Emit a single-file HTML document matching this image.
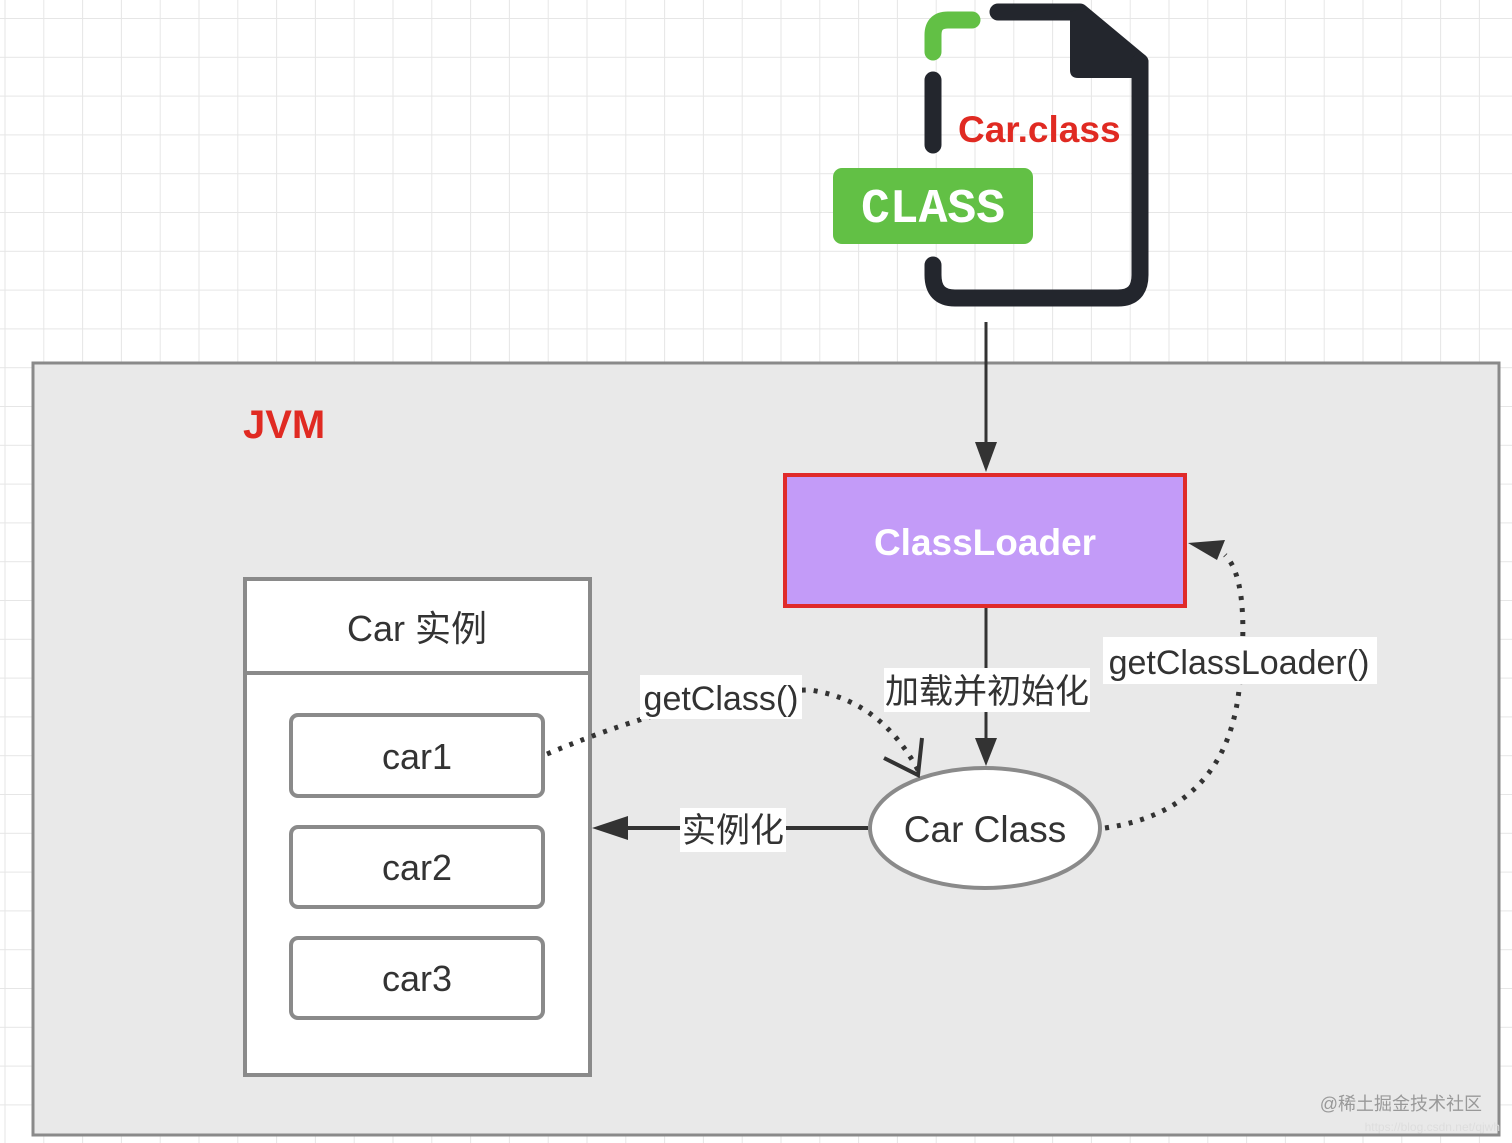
<!DOCTYPE html>
<html><head><meta charset="utf-8"><style>
html,body{margin:0;padding:0;background:#fff;}
svg{display:block;}
text{font-family:"Liberation Sans","Noto Sans CJK SC",sans-serif;}
</style></head><body>
<svg width="1512" height="1143" viewBox="0 0 1512 1143" xmlns="http://www.w3.org/2000/svg">
<defs>
<pattern id="g" x="4.5" y="18" width="38.8" height="38.8" patternUnits="userSpaceOnUse">
<path d="M0 0H38.8M0 0V38.8" stroke="#e6e6e6" stroke-width="2" fill="none"/>
</pattern>
</defs>
<rect width="1512" height="1143" fill="#fff"/>
<rect width="1512" height="1143" fill="url(#g)"/>

<!-- file icon -->
<path d="M933 52 V35 Q933 20 948 20 H972" stroke="#62c045" stroke-width="17" fill="none" stroke-linecap="round"/>
<path d="M998 12 H1080 L1140 62" stroke="#23262d" stroke-width="17" fill="none" stroke-linecap="round" stroke-linejoin="round"/>
<path d="M1070 12 L1070 70 Q1070 78 1078 78 H1140 L1140 60 L1082 8 Z" fill="#23262d"/>
<path d="M1140 62 V275 Q1140 298 1118 298 H955 Q933 298 933 275 V265" stroke="#23262d" stroke-width="17" fill="none" stroke-linecap="round" stroke-linejoin="round"/>
<path d="M933 80 V145" stroke="#23262d" stroke-width="17" fill="none" stroke-linecap="round"/>
<rect x="833" y="168" width="200" height="76" rx="9" fill="#62c045"/>
<text x="933" y="222" text-anchor="middle" font-family="Liberation Mono,monospace" font-weight="bold" font-size="48" fill="#fff" style="font-family:'Liberation Mono',monospace">CLASS</text>
<text x="958" y="142" font-size="37" font-weight="bold" fill="#e02a22">Car.class</text>

<!-- JVM -->
<rect x="33" y="363" width="1466" height="772" fill="#e9e9e9" stroke="#8a8a8a" stroke-width="3"/>
<text x="243" y="438" font-size="40" font-weight="bold" fill="#e02a22">JVM</text>

<!-- top arrow -->
<line x1="986" y1="322" x2="986" y2="450" stroke="#333" stroke-width="3"/>
<polygon points="975,442 997,442 986,472" fill="#333"/>

<!-- ClassLoader -->
<rect x="785" y="475" width="400" height="131" fill="#c39bf8" stroke="#e02a2a" stroke-width="4"/>
<text x="985" y="555" text-anchor="middle" font-size="37" font-weight="bold" fill="#fff">ClassLoader</text>

<!-- load arrow -->
<line x1="986" y1="608" x2="986" y2="745" stroke="#333" stroke-width="3"/>
<polygon points="975,738 997,738 986,766" fill="#333"/>
<rect x="884" y="668" width="206" height="44" fill="#fff"/>
<text x="987" y="703" text-anchor="middle" font-size="34" fill="#333">加载并初始化</text>

<!-- Car instance box -->
<rect x="245" y="579" width="345" height="496" fill="#fff" stroke="#8a8a8a" stroke-width="4"/>
<line x1="245" y1="673" x2="590" y2="673" stroke="#8a8a8a" stroke-width="4"/>
<text x="417" y="641" text-anchor="middle" font-size="36" fill="#333">Car 实例</text>
<rect x="291" y="715" width="252" height="81" rx="7" fill="#fff" stroke="#8a8a8a" stroke-width="4"/>
<text x="417" y="769" text-anchor="middle" font-size="36" fill="#333">car1</text>
<rect x="291" y="827" width="252" height="80" rx="7" fill="#fff" stroke="#8a8a8a" stroke-width="4"/>
<text x="417" y="880" text-anchor="middle" font-size="36" fill="#333">car2</text>
<rect x="291" y="938" width="252" height="80" rx="7" fill="#fff" stroke="#8a8a8a" stroke-width="4"/>
<text x="417" y="991" text-anchor="middle" font-size="36" fill="#333">car3</text>

<!-- Car Class ellipse -->
<ellipse cx="985" cy="828" rx="115" ry="60" fill="#fff" stroke="#8a8a8a" stroke-width="4"/>
<text x="985" y="842" text-anchor="middle" font-size="37" fill="#333">Car Class</text>

<!-- instantiate arrow -->
<line x1="868" y1="828" x2="620" y2="828" stroke="#333" stroke-width="4"/>
<polygon points="592,828 628,816 628,840" fill="#333"/>
<rect x="680" y="808" width="106" height="44" fill="#fff"/>
<text x="733" y="842" text-anchor="middle" font-size="34" fill="#333">实例化</text>

<!-- getClass dotted -->
<path d="M547 754 Q700 690 810 690 Q880 700 918 770" stroke="#333" stroke-width="5" fill="none" stroke-dasharray="4 8"/>
<path d="M884 758 L918 775 L922 738" stroke="#333" stroke-width="4" fill="none"/>
<rect x="640" y="675" width="162" height="44" fill="#fff"/>
<text x="721" y="710" text-anchor="middle" font-size="34" fill="#333">getClass()</text>

<!-- getClassLoader dotted -->
<path d="M1105 828 Q1230 810 1240 680 Q1250 580 1225 555" stroke="#333" stroke-width="5" fill="none" stroke-dasharray="4 8"/>
<polygon points="1188,543 1225,540 1217,560" fill="#333"/>
<rect x="1103" y="637" width="274" height="47" fill="#fff"/>
<text x="1239" y="674" text-anchor="middle" font-size="34" fill="#333">getClassLoader()</text>

<!-- watermark -->
<text x="1482" y="1110" text-anchor="end" font-size="18" fill="#999">@稀土掘金技术社区</text>
<text x="1500" y="1131" text-anchor="end" font-size="12" fill="#ddd">https://blog.csdn.net/qjwh</text>
</svg>
</body></html>
